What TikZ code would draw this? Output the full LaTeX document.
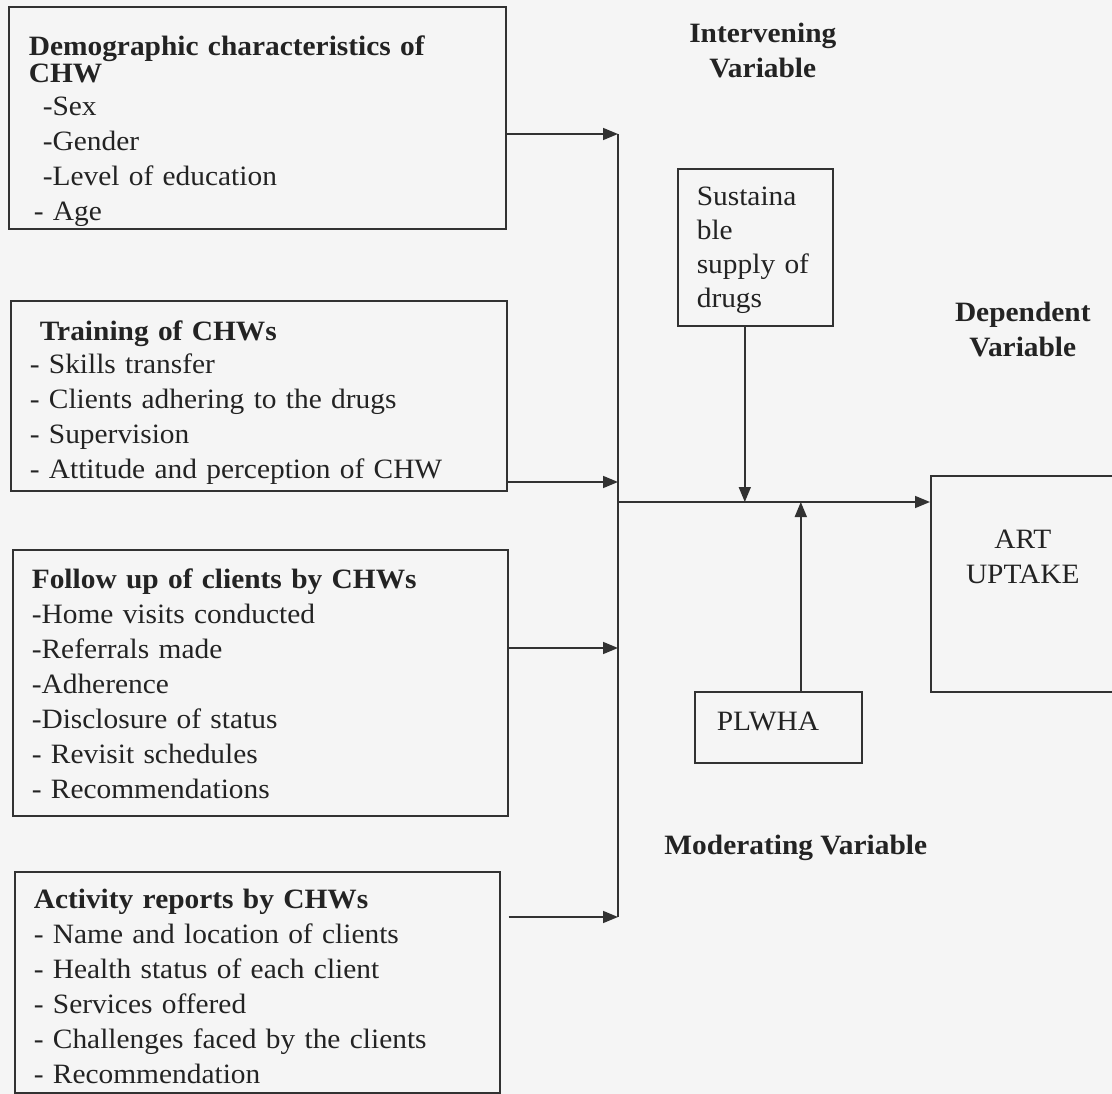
\documentclass[tikz,border=0pt]{standalone}
\usepackage{fontspec}
\setmainfont{Liberation Serif}[FakeStretch=1.05]
\usepackage{xcolor}
\usetikzlibrary{arrows.meta, positioning, backgrounds}
\definecolor{colInk}   {RGB}{ 35,  35,  35}
\definecolor{colLine}  {RGB}{ 50,  50,  50}
\definecolor{colPaper} {RGB}{245, 245, 245}
\newcommand{\tallstrut}[1]{\rule{0pt}{#1}}
\newcommand{\deepstrut}[1]{\rule[-#1]{0pt}{#1}}
\tikzset{
  varbox/.style={
    rectangle, draw=colLine, line width=1.6pt, text=colInk,
    anchor=north west, align=left,
    font=\fontsize{28}{35}\selectfont,
    inner xsep=19pt, inner ysep=0pt
  },
  headlbl/.style={
    text=colInk, font=\fontsize{28}{35}\selectfont\bfseries,
    align=center, inner sep=0pt
  },
  flow/.style={
    -{Triangle[length=15pt,width=12pt]}, line width=1.6pt, color=colLine
  },
  link/.style={
    line width=1.6pt, color=colLine
  },
}
\begin{document}
\begin{tikzpicture}[x=1pt, y=-1pt]
\useasboundingbox (0,0) rectangle (1112,1094);

%% ══════════════════════════════════════════════════════════════
%%  INDEPENDENT VARIABLES  (left column)
%% ══════════════════════════════════════════════════════════════

% 1. demographics
\node[varbox, text width=457pt, inner xsep=20pt] (demo) at (8,6)
  {\tallstrut{49pt}\textbf{Demographic characteristics of}\\[-8pt]
   \textbf{CHW}\\[-2pt]
   \hspace*{14pt}-Sex\\
   \hspace*{14pt}-Gender\\
   \hspace*{14pt}-Level of education\\
   \hspace*{5pt}- Age\deepstrut{8pt}};

% 2. training
\node[varbox, text width=458pt] (train) at (10,300)
  {\tallstrut{40pt}\hspace*{10pt}\textbf{Training of CHWs}\\[-2pt]
   - Skills transfer\\
   - Clients adhering to the drugs\\
   - Supervision\\
   - Attitude and perception of CHW\deepstrut{12pt}};

% 3. follow up
\node[varbox, text width=457pt] (follow) at (12,549)
  {\tallstrut{39pt}\textbf{Follow up of clients by CHWs}\\
   -Home visits conducted\\
   -Referrals made\\
   -Adherence\\
   -Disclosure of status\\
   - Revisit schedules\\
   - Recommendations\deepstrut{17pt}};

% 4. activity reports
\node[varbox, text width=447pt] (act) at (14,871)
  {\tallstrut{37pt}\textbf{Activity reports by CHWs}\\
   - Name and location of clients\\
   - Health status of each client\\
   - Services offered\\
   - Challenges faced by the clients\\
   - Recommendation\deepstrut{9pt}};

%% ══════════════════════════════════════════════════════════════
%%  INTERVENING / MODERATING / DEPENDENT
%% ══════════════════════════════════════════════════════════════
\node[varbox, text width=117pt, font=\fontsize{28}{34}\selectfont] (sust) at (677,168)
  {\tallstrut{37pt}Sustaina\\ble\\supply of\\drugs\deepstrut{18pt}};
\node[headlbl, above=90pt of sust, xshift=7.5pt] (ivlbl) {Intervening\\Variable};

\node[varbox, text width=123pt, inner xsep=22pt] (plwha) at (694,691)
  {\tallstrut{39pt}PLWHA\deepstrut{32pt}};
\node[headlbl, below=71pt of plwha, xshift=17.5pt] (mvlbl) {Moderating Variable};

\node[varbox, text width=146pt, align=center] (art) at (930,475)
  {\tallstrut{73pt}ART\\UPTAKE\deepstrut{108pt}};
\node[headlbl, above=118pt of art] (dvlbl) {Dependent\\Variable};

%% ── spine and arrows ────────────────────────────────────────
\coordinate (s1)  at (618,134);
\coordinate (s2)  at (618,482);
\coordinate (s3)  at (618,648);
\coordinate (s4)  at (618,917);
\coordinate (hub) at (618,502);

\draw[flow] (demo.east |- s1) -- (s1);
\draw[flow] (train.east |- s2) -- (s2);
\draw[flow] (follow.east |- s3) -- (s3);
\draw[flow, shorten <=8pt] (act.east |- s4) -- (s4);
\draw[link] (s1) -- (s4);

\draw[flow] (hub) -- (art.west |- hub);
\draw[flow] ([xshift=-10.5pt]sust.south) -- ([xshift=-10.5pt]sust.south |- hub);
\draw[flow] ([xshift=22.5pt]plwha.north) -- ([xshift=22.5pt]plwha.north |- hub);

%% ── paper ───────────────────────────────────────────────────
\begin{scope}[on background layer]
  \fill[colPaper] (0,0) rectangle (1112,1094);
\end{scope}

\end{tikzpicture}
\end{document}
